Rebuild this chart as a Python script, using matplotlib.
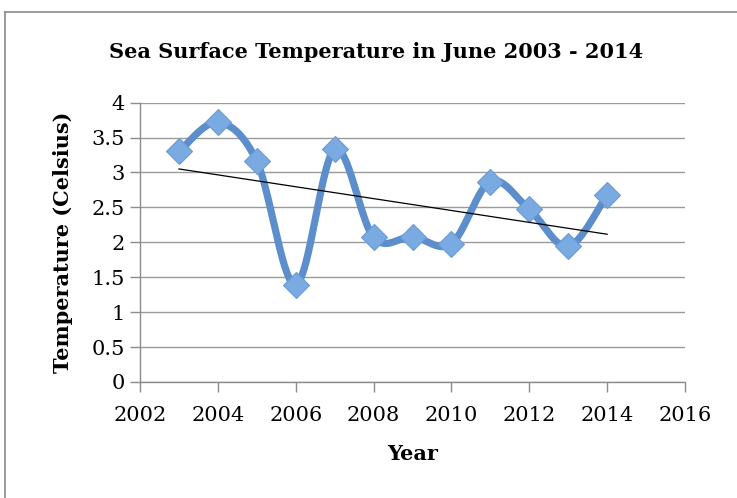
import numpy as np
import matplotlib
matplotlib.use("Agg")
import matplotlib.pyplot as plt
from matplotlib.lines import Line2D

years = [2003, 2004, 2005, 2006, 2007, 2008, 2009, 2010, 2011, 2012, 2013, 2014]
temps = [3.30, 3.72, 3.16, 1.39, 3.33, 2.07, 2.08, 1.98, 2.87, 2.47, 1.94, 2.68]
x_ticks = [2002, 2004, 2006, 2008, 2010, 2012, 2014, 2016]
y_ticks = [0, 0.5, 1, 1.5, 2, 2.5, 3, 3.5, 4]
y_tick_labels = ["0", "0.5", "1", "1.5", "2", "2.5", "3", "3.5", "4"]
title = "Sea Surface Temperature in June 2003 - 2014"
xlabel = "Year"
ylabel = "Temperature (Celsius)"


def smooth_curve(xs, ys, n=40):
    # Excel-style smoothed line: Catmull-Rom via cubic Bezier segments
    P = np.column_stack([xs, ys]).astype(float)
    out = []
    for i in range(len(P) - 1):
        p0 = P[i - 1] if i > 0 else P[i]
        p1 = P[i]
        p2 = P[i + 1]
        p3 = P[i + 2] if i + 2 < len(P) else P[i + 1]
        c1 = p1 + (p2 - p0) / 6.0
        c2 = p2 - (p3 - p1) / 6.0
        t = np.linspace(0, 1, n)[:, None]
        seg = ((1 - t) ** 3) * p1 + 3 * ((1 - t) ** 2) * t * c1 + 3 * (1 - t) * t ** 2 * c2 + t ** 3 * p2
        out.append(seg if i == 0 else seg[1:])
    seg = np.vstack(out)
    return seg[:, 0], seg[:, 1]


fig = plt.figure(figsize=(7.37, 4.98), dpi=100)
ax = fig.add_axes([0.19, 0.233, 0.7395, 0.561])

font = "DejaVu Serif"

sx, sy = smooth_curve(years, temps)
ax.plot(sx, sy, color="#5B8ECB", lw=5.2, solid_capstyle="round", zorder=3)
ax.plot(years, temps, linestyle="none", marker="D", markersize=13,
        markerfacecolor="#7AAAE2", markeredgecolor="#6A9BD6", markeredgewidth=0.8, zorder=4)

coef = np.polyfit(years, temps, 1)
tx = np.array([years[0], years[-1]])
ax.plot(tx, np.polyval(coef, tx), color="black", lw=0.9, zorder=5)

ax.set_xlim(2002, 2016)
ax.set_ylim(0, 4)
ax.set_xticks(x_ticks)
ax.set_xticklabels([str(v) for v in x_ticks], family=font, fontsize=15)
ax.set_yticks(y_ticks)
ax.set_yticklabels(y_tick_labels, family=font, fontsize=15)
ax.yaxis.grid(True, color="#9a9a9a", lw=1.0)
ax.set_axisbelow(True)
for s in ["top", "right"]:
    ax.spines[s].set_visible(False)
for s in ["left", "bottom"]:
    ax.spines[s].set_color("#8c8c8c")
    ax.spines[s].set_linewidth(1.0)
ax.tick_params(axis="both", direction="out", length=7, width=1.0, color="#8c8c8c")
ax.tick_params(axis="x", pad=10)
ax.tick_params(axis="y", pad=4)

ax.set_xlabel(xlabel, family=font, fontsize=15, fontweight="bold", labelpad=14)
ax.set_ylabel(ylabel, family=font, fontsize=15, fontweight="bold", labelpad=13)
fig.text(0.51, 0.895, title, ha="center", va="center", family=font, fontsize=15, fontweight="bold")

fig.add_artist(Line2D([5 / 737, 5 / 737], [0, 1 - 12 / 498], transform=fig.transFigure, color="#8a8a8a", lw=1.2))
fig.add_artist(Line2D([5 / 737, 1], [1 - 12 / 498, 1 - 12 / 498], transform=fig.transFigure, color="#8a8a8a", lw=1.2))

fig.savefig("out.png", dpi=100)
